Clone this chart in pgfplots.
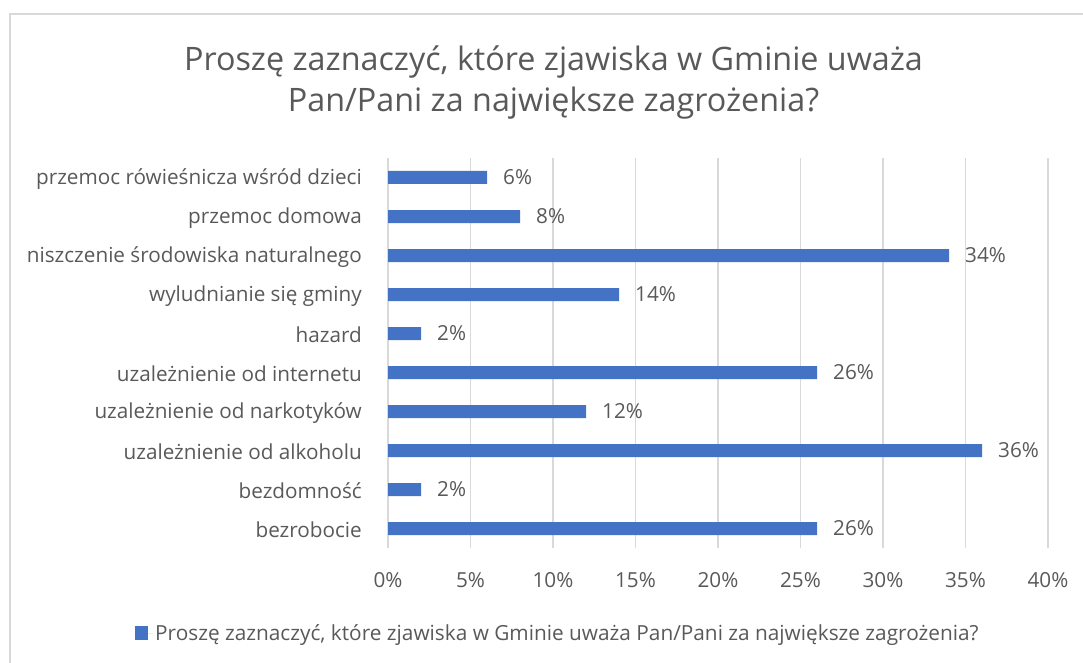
\documentclass[border=0pt]{standalone}
\usepackage{pgfplots}
\pgfplotsset{compat=1.18}
\usepackage{fontspec}
\setmainfont{Open Sans}
\definecolor{barblue}{HTML}{4472C4}
\definecolor{txt}{HTML}{595959}
\definecolor{gridc}{HTML}{D9D9D9}
\begin{document}
\begin{tikzpicture}[x=1pt,y=1pt]
\useasboundingbox (0,0) rectangle (1083,662);
\draw[gridc, line width=1.3pt] (10,-5) -- (10,648) -- (1090,648);
\node[txt, font=\fontsize{32.3}{41}\selectfont, align=center] at (553.5,579.5) {Proszę zaznaczyć, które zjawiska w Gminie uważa\\Pan/Pani za największe zagrożenia?};
\begin{axis}[
  at={(388pt,114pt)}, anchor=south west,
  scale only axis, width=660pt, height=390pt,
  xbar, bar width=13pt,
  xmin=0, xmax=40, ymin=-0.5, ymax=9.5,
  xtick={0,5,...,40},
  ytick={0,...,9},
  yticklabels={bezrobocie,bezdomność,uzależnienie od alkoholu,uzależnienie od narkotyków,uzależnienie od internetu,hazard,wyludnianie się gminy,niszczenie środowiska naturalnego,przemoc domowa,przemoc rówieśnicza wśród dzieci},
  /pgf/number format/assume math mode=true,
  xticklabel={\pgfmathprintnumber{\tick}\%},
  xmajorgrids, major grid style={gridc, line width=1.2pt},
  axis line style={draw=none},
  major tick length=0pt,
  xticklabel style={font=\fontsize{20.7}{22}\selectfont, text=txt, anchor=north, inner sep=0pt, yshift=-24pt},
  yticklabel style={font=\fontsize{20.7}{22}\selectfont, text=txt, anchor=east, inner sep=0pt, xshift=-26pt, yshift=-1.5pt},
  nodes near coords={\pgfmathprintnumber{\pgfplotspointmeta}\%},
  point meta=x,
  every node near coord/.append style={font=\fontsize{20.7}{22}\selectfont, text=txt, anchor=west, inner sep=0pt, xshift=16pt},
  legend style={at={(0.257,-0.218)}, anchor=center, draw=none, font=\fontsize{20.8}{22}\selectfont, text=txt, fill=none},
  legend image code/.code={\fill[barblue] (0pt,-6.8pt) rectangle (13.5pt,6.8pt); \path (0pt,0pt) -- (18.5pt,0pt);},
  clip=false,
]
\addplot[fill=barblue, draw=none] coordinates {
(26,0) (2,1) (36,2) (12,3) (26,4) (2,5) (14,6) (34,7) (8,8) (6,9)
};
\addlegendentry{Proszę zaznaczyć, które zjawiska w Gminie uważa Pan/Pani za największe zagrożenia?}
\end{axis}
\end{tikzpicture}
\end{document}
